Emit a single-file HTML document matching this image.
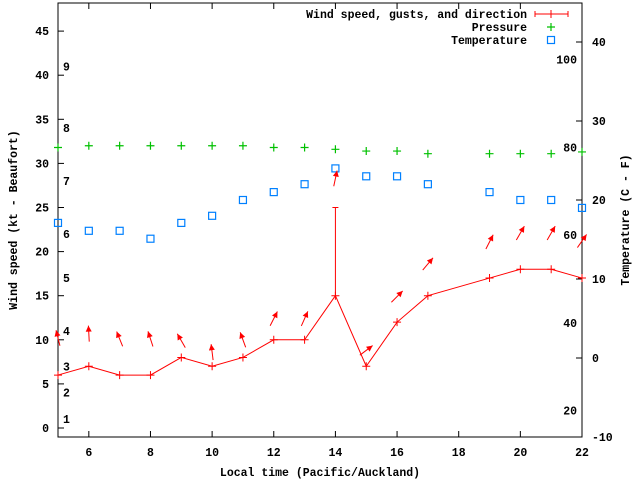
<!DOCTYPE html>
<html><head><meta charset="utf-8"><style>
html,body{margin:0;padding:0;background:#fff}
svg{display:block}
text{font-family:"Liberation Mono",monospace;font-size:11.5px;font-weight:bold;fill:#000}
</style></head><body>
<svg id="c" width="640" height="480"></svg>
<script>
const hours=[5,6,7,8,9,10,11,12,13,14,15,16,17,19,20,21,22];
const windKt=[6,7,6,6,8,7,8,10,10,15,7,12,15,17,18,18,17];
const gustHours=[14];
const gustKt=[25];
const gustBase=[15];
const pressure=[31.8,32,32,32,32,32,32,31.8,31.8,31.6,31.4,31.4,31.1,31.1,31.1,31.1,31.3];
const tempC=[17.1,16.1,16.1,15.1,17.1,18,20,21,22,24,23,23,22,21,20,20,19];
const arrowLevel=[10.2,10.7,10.1,10.1,9.9,8.6,10,12.4,12.4,28.3,8.8,14.9,18.6,21.1,22.1,22.1,21.2];
const arrowDir=[-14,-3,-22,-18,-30,-7,-20,27,24,12,53,45,40,27,30,30,35];
const xTicks=[6,8,10,12,14,16,18,20,22];
const yTicks=[0,5,10,15,20,25,30,35,40,45];
const cTicks=[-10,0,10,20,30,40];
const beaufortLabels=["1","2","3","4","5","6","7","8","9"];
const beaufortKt=[1,4,7,11,17,22,28,34,41];
const fahrLabels=["20","40","60","80","100"];
const fahrVals=[20,40,60,80,100];

const L=58,R=582,T=3,B=437;
const X=h=>L+(h-5)/(22-5)*(R-L);
const Y=v=>428-v*8.82;
const YC=c=>358-c*7.9;
const YF=f=>YC((f-32)*5/9);
const svg=document.getElementById('c');
const NS='http://www.w3.org/2000/svg';
function mk(tag,attrs,name,txt){const e=document.createElementNS(NS,tag);for(const k in attrs)e.setAttribute(k,attrs[k]);


if(txt!==undefined)e.textContent=txt;svg.appendChild(e);return e;}
mk('rect',{x:L,y:T,width:R-L,height:B-T,fill:'none',stroke:'#000','stroke-width':1},'plot-frame');
xTicks.forEach(h=>{const x=X(h);
mk('line',{x1:x,y1:B,x2:x,y2:B-6,stroke:'#000'},'x-tick');
mk('line',{x1:x,y1:T,x2:x,y2:T+6,stroke:'#000'},'x-tick-top');
mk('text',{x:x,y:B+19,'text-anchor':'middle'},'x-tick-label',String(h));});
yTicks.forEach(v=>{const y=Y(v);
mk('line',{x1:L,y1:y,x2:L+6,y2:y,stroke:'#000'},'y-tick');
mk('text',{x:L-9,y:y+4,'text-anchor':'end'},'y-tick-label',String(v));});
cTicks.forEach(v=>{const y=YC(v);
mk('line',{x1:R,y1:y,x2:R-6,y2:y,stroke:'#000'},'y2-tick');
mk('text',{x:R+10,y:y+4,'text-anchor':'start'},'y2-tick-label',String(v));});
beaufortLabels.forEach((t,i)=>mk('text',{x:63,y:Y(beaufortKt[i])+4},'beaufort-label',t));
fahrLabels.forEach((t,i)=>mk('text',{x:577,y:YF(fahrVals[i])+4,'text-anchor':'end'},'fahrenheit-label',t));
mk('text',{x:320,y:476,'text-anchor':'middle'},'x-axis-title','Local time (Pacific/Auckland)');
mk('text',{x:0,y:0,'text-anchor':'middle',transform:'translate(17,220) rotate(-90)'},'y-axis-title','Wind speed (kt - Beaufort)');
mk('text',{x:0,y:0,'text-anchor':'middle',transform:'translate(629,220) rotate(-90)'},'y2-axis-title','Temperature (C - F)');
// pressure
pressure.forEach((p,i)=>{const x=X(hours[i]),y=Y(p);
mk('path',{d:`M${x-4},${y}H${x+4}M${x},${y-4}V${y+4}`,stroke:'#00c000','stroke-width':1.2},'pressure-point');});
// temperature
tempC.forEach((c,i)=>{const x=X(hours[i]),y=YC(c);
mk('rect',{x:x-3.5,y:y-3.5,width:7,height:7,fill:'none',stroke:'#0080ff','stroke-width':1.2},'temperature-point');});
// wind line
mk('polyline',{points:hours.map((h,i)=>X(h)+','+Y(windKt[i])).join(' '),fill:'none',stroke:'#ff0000','stroke-width':1},'wind-speed-line');
windKt.forEach((w,i)=>{const x=X(hours[i]),y=Y(w);
mk('path',{d:`M${x-4},${y}H${x+4}M${x},${y-4}V${y+4}`,stroke:'#ff0000','stroke-width':1},'wind-point');});
gustHours.forEach((h,i)=>{const x=X(h);
mk('path',{d:`M${x},${Y(gustBase[i])}V${Y(gustKt[i])}M${x-3},${Y(gustKt[i])}H${x+3}`,stroke:'#ff0000','stroke-width':1},'gust-bar');});
// arrows
arrowLevel.forEach((lv,i)=>{const cx=X(hours[i]),cy=Y(lv),a=arrowDir[i]*Math.PI/180,len=16;
const dx=Math.sin(a)*len/2,dy=-Math.cos(a)*len/2;
const tx=cx+dx,ty=cy+dy;
mk('line',{x1:cx-dx,y1:cy-dy,x2:tx,y2:ty,stroke:'#ff0000','stroke-width':1},'wind-direction-arrow');
const ux=dx/(len/2),uy=dy/(len/2),px=-uy,py=ux;
mk('polygon',{points:`${tx},${ty} ${tx-ux*6+px*3},${ty-uy*6+py*3} ${tx-ux*6-px*3},${ty-uy*6-py*3}`,fill:'#ff0000'},'wind-arrow-head');});
// legend
mk('text',{x:527,y:18,'text-anchor':'end'},'legend-wind-label','Wind speed, gusts, and direction');
mk('path',{d:'M535,14H568M535,11V17M568,11V17M551,10V18',stroke:'#ff0000','stroke-width':1},'legend-wind-sample');
mk('text',{x:527,y:31,'text-anchor':'end'},'legend-pressure-label','Pressure');
mk('path',{d:'M547,27H555M551,23V31',stroke:'#00c000','stroke-width':1.2},'legend-pressure-sample');
mk('text',{x:527,y:44,'text-anchor':'end'},'legend-temperature-label','Temperature');
mk('rect',{x:547.5,y:36.5,width:7,height:7,fill:'none',stroke:'#0080ff','stroke-width':1.2},'legend-temperature-sample');
</script></body></html>
